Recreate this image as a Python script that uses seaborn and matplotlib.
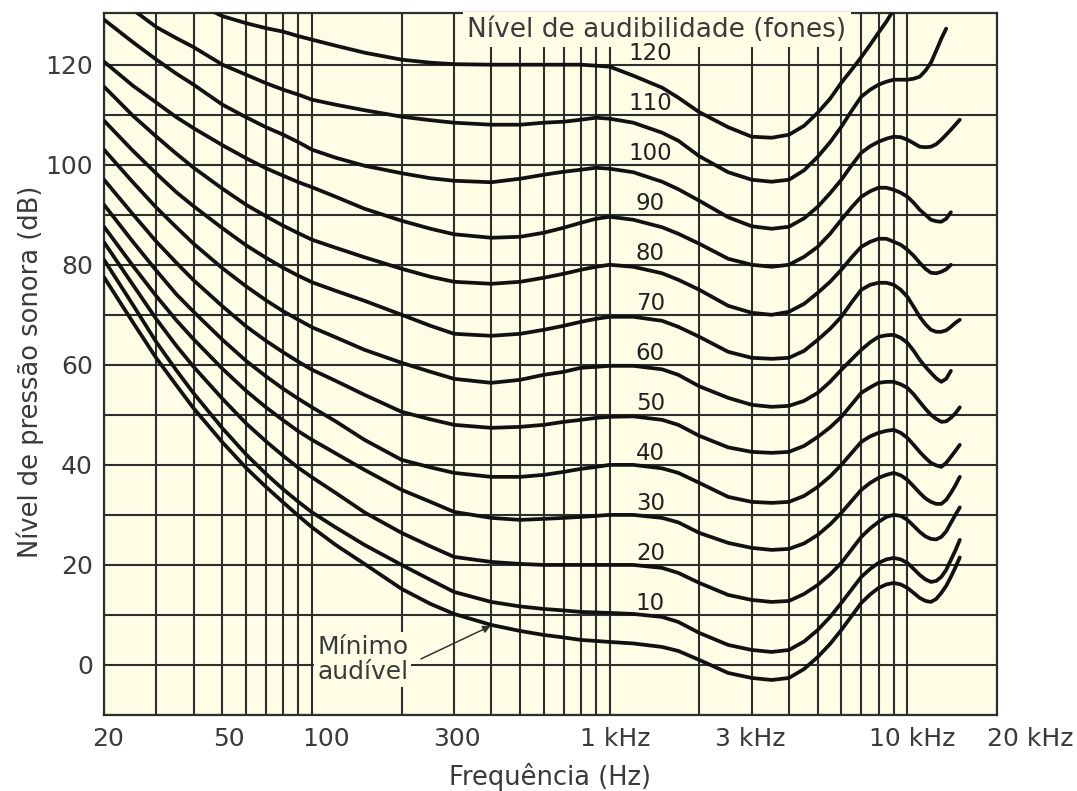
import numpy as np
import pandas as pd
import matplotlib
matplotlib.use("Agg")
import matplotlib.pyplot as plt
import matplotlib.ticker as mticker
import matplotlib.transforms as mtransforms
import seaborn as sns

# Equal-loudness contours, values
freq = [20, 25, 30, 35, 40, 50, 60, 70, 80, 90,
        100, 120, 150, 200, 250, 300, 400, 500, 600, 700,
        800, 900, 1000, 1200, 1500, 1700, 2000, 2500, 3000, 3500,
        4000, 4500, 5000, 5500, 6000, 6500, 7000, 7500, 8000, 8500,
        9000, 9500, 10000, 10500, 11000, 11500, 12000, 12500, 13000, 13500,
        14000, 14500, 15000]
nan = np.nan

spl_min = [77.5, 68.5, 61.3, 55.9, 51.3, 44.5, 39.4, 35.6, 32.5, 29.8,
           27.5, 24, 20.2, 15.2, 12.2, 10.2, 8, 6.8, 6, 5.5,
           5, 4.8, 4.6, 4.3, 3.6, 2.8, 1, -1.6, -2.6, -3,
           -2.6, -0.8, 1.6, 4.2, 7, 9.8, 12.4, 14.1, 15.4, 16.1,
           16.4, 16.1, 15.4, 14.4, 13.4, 12.8, 12.6, 13.2, 14.4, 15.8,
           17.6, 19.5, 21.5]
spl_10 = [81, 72, 64.5, 58.9, 54.3, 47.3, 42.1, 38.2, 35.1, 32.6,
          30.5, 27.5, 24, 20, 17, 14.6, 12.6, 11.7, 11.2, 10.9,
          10.6, 10.5, 10.4, 10.2, 9.6, 8.6, 6.4, 4, 3, 2.6,
          3, 4.7, 7, 9.6, 12.4, 15.1, 17.6, 19.2, 20.4, 21.1,
          21.4, 21.1, 20.4, 19.2, 18, 17.1, 16.6, 16.8, 17.6, 19,
          21, 22.9, 25]
spl_20 = [84.5, 76, 69.1, 63.8, 59.6, 53.2, 48.3, 44.7, 41.8, 39.4,
          37.5, 34.4, 30.5, 26.4, 23.7, 21.6, 20.6, 20.2, 20, 20,
          20, 20, 20, 20, 19.4, 18.4, 16.4, 14, 13, 12.6,
          12.8, 14.2, 16, 18.1, 20.4, 23.1, 25.6, 27.3, 28.6, 29.6,
          30, 29.8, 29, 27.8, 26.6, 25.7, 25.2, 25.1, 25.6, 26.7,
          28.4, 30, 31.5]
spl_30 = [87.6, 79.8, 73.7, 68.9, 65.1, 59.2, 54.8, 51.5, 48.9, 46.7,
          45, 42.3, 39, 35, 32.6, 30.6, 29.4, 29, 29.2, 29.4,
          29.6, 29.8, 30, 30, 29.4, 28.5, 26.4, 24.4, 23.4, 23,
          23.2, 24.3, 26, 28.1, 30.4, 32.8, 35, 36.4, 37.4, 38,
          38.4, 37.9, 37, 35.7, 34.4, 33.3, 32.6, 32.2, 32.2, 33,
          34.4, 35.9, 37.6]
spl_40 = [92, 84.6, 78.8, 74.1, 70.6, 65, 60.8, 57.7, 55.2, 53.2,
          51.5, 48.7, 45, 41, 39.5, 38.4, 37.6, 37.6, 38, 38.6,
          39.2, 39.6, 40, 40, 39.3, 38.4, 36.4, 33.6, 32.6, 32.4,
          32.6, 33.8, 35.6, 37.7, 40, 42.4, 44.6, 45.7, 46.4, 46.8,
          47, 46.4, 45.4, 44, 42.6, 41.4, 40.4, 39.9, 39.6, 40.4,
          41.6, 42.8, 44]
spl_50 = [97, 90.1, 84.6, 80.4, 76.9, 71.7, 67.7, 64.8, 62.5, 60.6,
          59, 56.8, 54, 50.6, 49.1, 48, 47.4, 47.6, 48, 48.6,
          49, 49.4, 49.6, 49.7, 49, 48, 45.8, 43.5, 42.6, 42.4,
          42.6, 43.8, 45.6, 47.5, 49.6, 52.1, 54.4, 55.5, 56.4, 56.6,
          56.6, 56.1, 55.4, 54.1, 52.6, 51.2, 50, 49.2, 48.6, 48.7,
          49.4, 50.3, 51.5]
spl_60 = [103, 96.5, 91.4, 87.5, 84.2, 79.3, 75.7, 72.9, 70.7, 69,
          67.5, 65.5, 63, 60.4, 58.6, 57.2, 56.4, 57, 58, 58.6,
          59.4, 59.6, 59.8, 59.8, 59.1, 58, 55.7, 53.4, 52, 51.6,
          51.8, 52.8, 54.4, 56.6, 59, 61.1, 63, 64.5, 65.6, 65.9,
          66, 65.4, 64.4, 62.8, 61, 59.6, 58.4, 57.3, 56.6, 57.2,
          58.8, nan, nan]
spl_70 = [108.8, 102.8, 98.2, 94.5, 91.7, 87.3, 83.9, 81.4, 79.4, 77.8,
          76.5, 74.8, 72.8, 70, 67.8, 66.2, 65.8, 66.2, 67, 67.8,
          68.6, 69.2, 69.6, 69.6, 68.8, 67.6, 65.6, 62.6, 61.4, 61.2,
          61.4, 62.8, 65, 67.2, 69.6, 72.5, 75, 76, 76.4, 76.4,
          76, 75, 73.6, 71.6, 69.6, 68.1, 67, 66.6, 66.6, 66.9,
          67.6, 68.4, 69]
spl_80 = [115.6, 109.8, 105.6, 102.2, 99.4, 95.2, 92, 89.7, 87.8, 86.3,
          85, 83.4, 81.5, 79.2, 77.6, 76.6, 76.2, 76.6, 77.4, 78.2,
          79, 79.6, 80, 79.6, 78.3, 77, 75, 71.8, 70.4, 70,
          70.6, 72.2, 74.4, 76.6, 79, 81.5, 83.6, 84.6, 85.2, 85.2,
          84.6, 84, 83, 81.8, 80.4, 79.2, 78.4, 78.3, 78.6, 79.1,
          80, nan, nan]
spl_90 = [120.6, 115.8, 112.4, 109.5, 107.3, 103.9, 101.3, 99.3, 97.8, 96.5,
          95.5, 93.6, 91.2, 88.8, 87.2, 86.1, 85.4, 85.6, 86.4, 87.4,
          88.4, 89.2, 89.6, 89, 87.5, 86.2, 84.2, 81.2, 80, 79.6,
          80, 81.6, 83.6, 86.2, 89, 91.5, 93.6, 94.7, 95.4, 95.4,
          95, 94.4, 93.6, 92.4, 91, 90, 89, 88.7, 88.6, 89.2,
          90.5, nan, nan]
spl_100 = [129, 124.5, 121, 118.2, 116, 112, 109.5, 107.5, 106, 104.5,
           103, 101.4, 99.8, 98.3, 97.3, 96.8, 96.5, 97.2, 98, 98.6,
           99, 99.4, 99.2, 98.5, 96.6, 95.1, 92.8, 89.5, 87.7, 87.2,
           87.6, 89.3, 91.6, 94.3, 97, 99.9, 102.4, 103.7, 104.6, 105.2,
           105.6, 105.5, 105, 104.3, 103.6, 103.5, 103.6, 104.1, 105, 106,
           107, 108, 109]
spl_110 = [136, 131, 127.5, 125.3, 123.5, 120, 118, 116.3, 115, 114,
           113, 112, 110.9, 109.6, 108.9, 108.4, 108, 108, 108.4, 108.6,
           109, 109.4, 109.2, 108.4, 106.4, 104.8, 101.7, 98.5, 97, 96.6,
           97, 98.9, 101.6, 104.5, 107.6, 110.8, 113.6, 115, 116, 116.6,
           117, 117, 117, 117.2, 117.6, 118.8, 120.4, 122.8, 125.2, 127.2,
           nan, nan, nan]
spl_120 = [nan, nan, nan, nan, 132.5, 129.7, 128.3, 127.3, 126.6, 125.7,
           125, 123.8, 122.4, 121, 120.4, 120.1, 120, 120, 120, 120,
           120, 119.8, 119.6, 117.8, 115.4, 113.4, 110.5, 107.5, 105.6, 105.4,
           106, 107.8, 110.4, 113.2, 116.4, 119, 121.5, 124, 126.4, 128.6,
           131, nan, nan, nan, nan, nan, nan, nan, nan, nan,
           nan, nan, nan]

curve_names = ["min", "10", "20", "30", "40", "50", "60", "70", "80", "90", "100", "110", "120"]
contours = [spl_min, spl_10, spl_20, spl_30, spl_40, spl_50, spl_60,
            spl_70, spl_80, spl_90, spl_100, spl_110, spl_120]

xtick_freqs = [20, 50, 100, 300, 1000, 3000, 10000, 20000]
xtick_text = ["20", "50", "100", "300", "1 kHz", "3 kHz", "10 kHz", "20 kHz"]
ytick_vals = [0, 20, 40, 60, 80, 100, 120]

df = pd.DataFrame({
    "freq": freq * len(contours),
    "spl": sum(contours, []),
    "curve": np.repeat(curve_names, len(freq)),
}).dropna()

cream = "#fefde6"
grid_col = "#2e2e2e"
text_col = "#3a3a3a"

sns.set_style("white")
plt.rcParams["font.family"] = ["DejaVu Sans"]

fig = plt.figure(figsize=(10.77, 7.91), dpi=100)
ax = fig.add_axes([0.0966, 0.0961, 0.8291, 0.8879])
ax.set_facecolor(cream)
ax.set_xscale("log")

sns.lineplot(data=df, x="freq", y="spl", hue="curve", hue_order=curve_names,
             palette=["#111111"] * len(curve_names), estimator=None, sort=True,
             legend=False, linewidth=2.7, ax=ax, zorder=4,
             solid_joinstyle="round")

ax.set_xlim(20, 20000)
ax.set_ylim(-10, 130.4)

# grid: 1-2-3...-9 per decade and every 10 dB
grid_freqs = list(range(20, 100, 10)) + list(range(100, 1000, 100)) + \
    list(range(1000, 10001, 1000)) + [20000]
ax.xaxis.set_major_locator(mticker.FixedLocator(grid_freqs))
ax.xaxis.set_minor_locator(mticker.NullLocator())
ax.set_xticklabels([xtick_text[xtick_freqs.index(f)] if f in xtick_freqs else ""
                    for f in grid_freqs])
ygrid = list(range(-10, 130, 10))
ax.set_yticks(ygrid)
ax.set_yticklabels([str(v) if v in ytick_vals else "" for v in ygrid])
ax.set_axisbelow(True)
ax.grid(True, color=grid_col, linewidth=1.5)
ax.tick_params(length=0, labelsize=18, colors=text_col)
ax.tick_params(axis="x", pad=9)
ax.tick_params(axis="y", pad=8)

# nudge x labels like the printed chart
label_shift_px = {20: 4, 50: 6, 100: 14, 300: 3, 1000: 6, 3000: -1, 10000: 5, 20000: 33}
for f, lab in zip(grid_freqs, ax.get_xticklabels()):
    if f in label_shift_px:
        off = mtransforms.ScaledTranslation(label_shift_px[f] / 100, 0, fig.dpi_scale_trans)
        lab.set_transform(lab.get_transform() + off)

for s in ax.spines.values():
    s.set_color(grid_col)
    s.set_linewidth(1.6)

ax.set_xlabel("Frequência (Hz)", fontsize=18.5, color=text_col)
ax.set_ylabel("Nível de pressão sonora (dB)", fontsize=18.5, color=text_col)
ax.xaxis.set_label_coords(0.4994, -0.068)
ax.yaxis.set_label_coords(-0.067, 0.488)

# phon labels on the curves
for name in curve_names[1:]:
    ax.text(1370, int(name) + 2.3, name, ha="center", va="center",
            fontsize=16.5, color="#222222", zorder=5)

ax.text(1440, 127, "Nível de audibilidade (fones)", ha="center", va="center",
        fontsize=19, color=text_col, zorder=3,
        bbox=dict(boxstyle="square,pad=0.18", fc=cream, ec="none"))

ax.text(104, 1, "Mínimo\naudível", ha="left", va="center", fontsize=18,
        color=text_col, linespacing=1.05, zorder=3,
        bbox=dict(boxstyle="square,pad=0.12", fc=cream, ec="none"))
ax.annotate("", xy=(398, 7.8), xytext=(232, 1.2),
            arrowprops=dict(arrowstyle="-|>", color="#333333", lw=1.1,
                            mutation_scale=11, shrinkA=0, shrinkB=0),
            zorder=5)

fig.savefig("out.png", dpi=100)
